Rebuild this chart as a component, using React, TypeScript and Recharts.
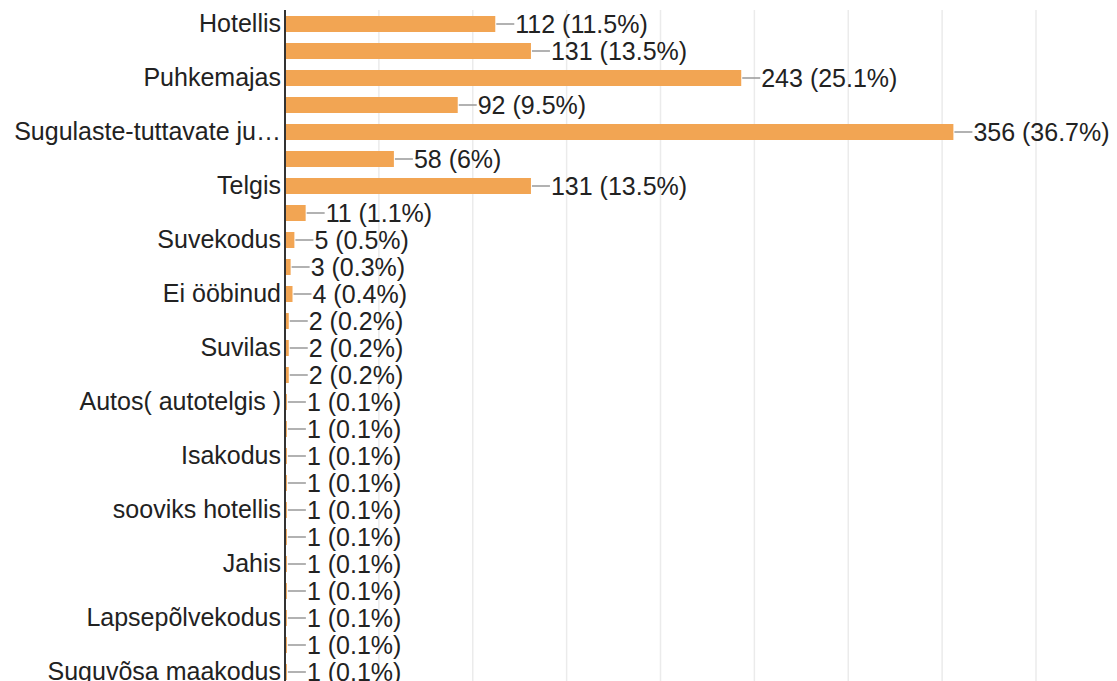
import React from "react";
import {
  BarChart,
  Bar,
  XAxis,
  YAxis,
  CartesianGrid,
  LabelList,
} from "recharts";

// Only every second category label is drawn in the source chart
const categories = [
  "Hotellis",
  "",
  "Puhkemajas",
  "",
  "Sugulaste-tuttavate ju…",
  "",
  "Telgis",
  "",
  "Suvekodus",
  "",
  "Ei ööbinud",
  "",
  "Suvilas",
  "",
  "Autos( autotelgis )",
  "",
  "Isakodus",
  "",
  "sooviks hotellis",
  "",
  "Jahis",
  "",
  "Lapsepõlvekodus",
  "",
  "Suguvõsa maakodus",
];

const counts = [
  112, 131, 243, 92, 356, 58, 131, 11, 5, 3, 4, 2, 2, 2, 1, 1, 1, 1, 1, 1, 1,
  1, 1, 1, 1,
];

const percents = [
  "11.5", "13.5", "25.1", "9.5", "36.7", "6", "13.5", "1.1", "0.5", "0.3",
  "0.4", "0.2", "0.2", "0.2", "0.1", "0.1", "0.1", "0.1", "0.1", "0.1", "0.1",
  "0.1", "0.1", "0.1", "0.1",
];

const xTicks = [0, 50, 100, 150, 200, 250, 300, 350, 400];

const data = categories.map((name, i) => ({
  idx: i,
  name,
  value: counts[i],
  label: `${counts[i]} (${percents[i]}%)`,
}));

const FONT = "Arial, 'Liberation Sans', sans-serif";
const BAR_COLOR = "#f2a553";

function ValueLabel(props: any) {
  const { x, y, width, height, index } = props;
  const endX = Number(x) + Number(width);
  const cy = Number(y) + Number(height) / 2;
  return (
    <g>
      <line x1={endX + 1} y1={cy} x2={endX + 19} y2={cy} stroke="#999" strokeWidth={1.5} />
      <text
        x={endX + 20}
        y={cy}
        dominantBaseline="central"
        fontSize={25}
        fontFamily={FONT}
        fill="#222"
      >
        {data[index].label}
      </text>
    </g>
  );
}

// x tick labels sit below the visible area in the source, so draw nothing
const EmptyTick = () => <g />;

export default function App() {
  return (
    <div
      style={{
        position: "absolute",
        top: 0,
        left: 0,
        width: 1117,
        height: 681,
        overflow: "hidden",
        background: "#fff",
      }}
    >
      <BarChart
        width={1117}
        height={700}
        data={data}
        layout="vertical"
        margin={{ top: 10, right: 81, bottom: 15, left: 0 }}
      >
        <CartesianGrid horizontal={false} stroke="#ebebeb" strokeWidth={1.5} />
        <XAxis
          type="number"
          orientation="top"
          domain={[0, 400]}
          ticks={xTicks}
          interval={0}
          height={0}
          tick={<EmptyTick />}
          tickLine={false}
          axisLine={{ stroke: "#ebebeb", strokeWidth: 1.5 }}
        />
        <YAxis
          type="category"
          dataKey="idx"
          width={285}
          interval={0}
          tickLine={false}
          tickSize={0}
          tickMargin={4}
          tickFormatter={(i: number) => categories[i]}
          tick={{ fontSize: 25, fontFamily: FONT, fill: "#222" }}
          axisLine={{ stroke: "#333", strokeWidth: 2 }}
        />
        <Bar dataKey="value" fill={BAR_COLOR} barSize={16} isAnimationActive={false}>
          <LabelList dataKey="value" content={<ValueLabel />} />
        </Bar>
      </BarChart>
    </div>
  );
}
